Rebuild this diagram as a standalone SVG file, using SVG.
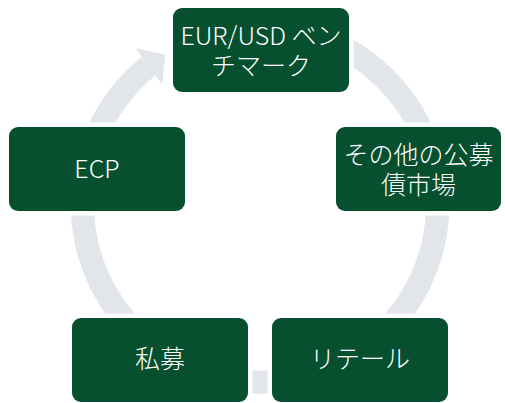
<svg xmlns="http://www.w3.org/2000/svg" width="505" height="403" viewBox="0 0 505 403">
<style>
.box{fill:#06502f;stroke:#ffffff;stroke-width:9;paint-order:stroke}
.lbl{fill:#ffffff;font-family:"Noto Sans CJK JP","Noto Sans",sans-serif;font-size:25px;font-weight:300;text-anchor:middle}
.ring{fill:#e2e5e9}
</style>
<rect width="505" height="403" fill="#ffffff"/>
<g id="connectors">
<path class="ring" d="M260,15.2 A189.3,189.3 0 1 1 141.4,57.0 L156.0,75.1 A166,166 0 1 0 260,38.5 Z"/>
<polygon class="ring" points="135.5,48.3 165.1,54.4 162.2,84.5"/>
</g>
<g id="node-eurusd">
<rect class="box" x="173" y="8" width="176" height="84" rx="9"/>
<text class="lbl" x="261" y="44.5">EUR/USD ベン</text>
<text class="lbl" x="261" y="74.5">チマーク</text>
</g>
<g id="node-other">
<rect class="box" x="336" y="127" width="165" height="84" rx="9"/>
<text class="lbl" x="418.5" y="163.5">その他の公募</text>
<text class="lbl" x="418.5" y="193.5">債市場</text>
</g>
<g id="node-retail">
<rect class="box" x="272" y="318" width="176" height="84" rx="9"/>
<text class="lbl" x="360" y="368">リテール</text>
</g>
<g id="node-private">
<rect class="box" x="72" y="318" width="176" height="84" rx="9"/>
<text class="lbl" x="160" y="368">私募</text>
</g>
<g id="node-ecp">
<rect class="box" x="9" y="127" width="176" height="84" rx="9"/>
<text class="lbl" x="97" y="178">ECP</text>
</g>
</svg>
